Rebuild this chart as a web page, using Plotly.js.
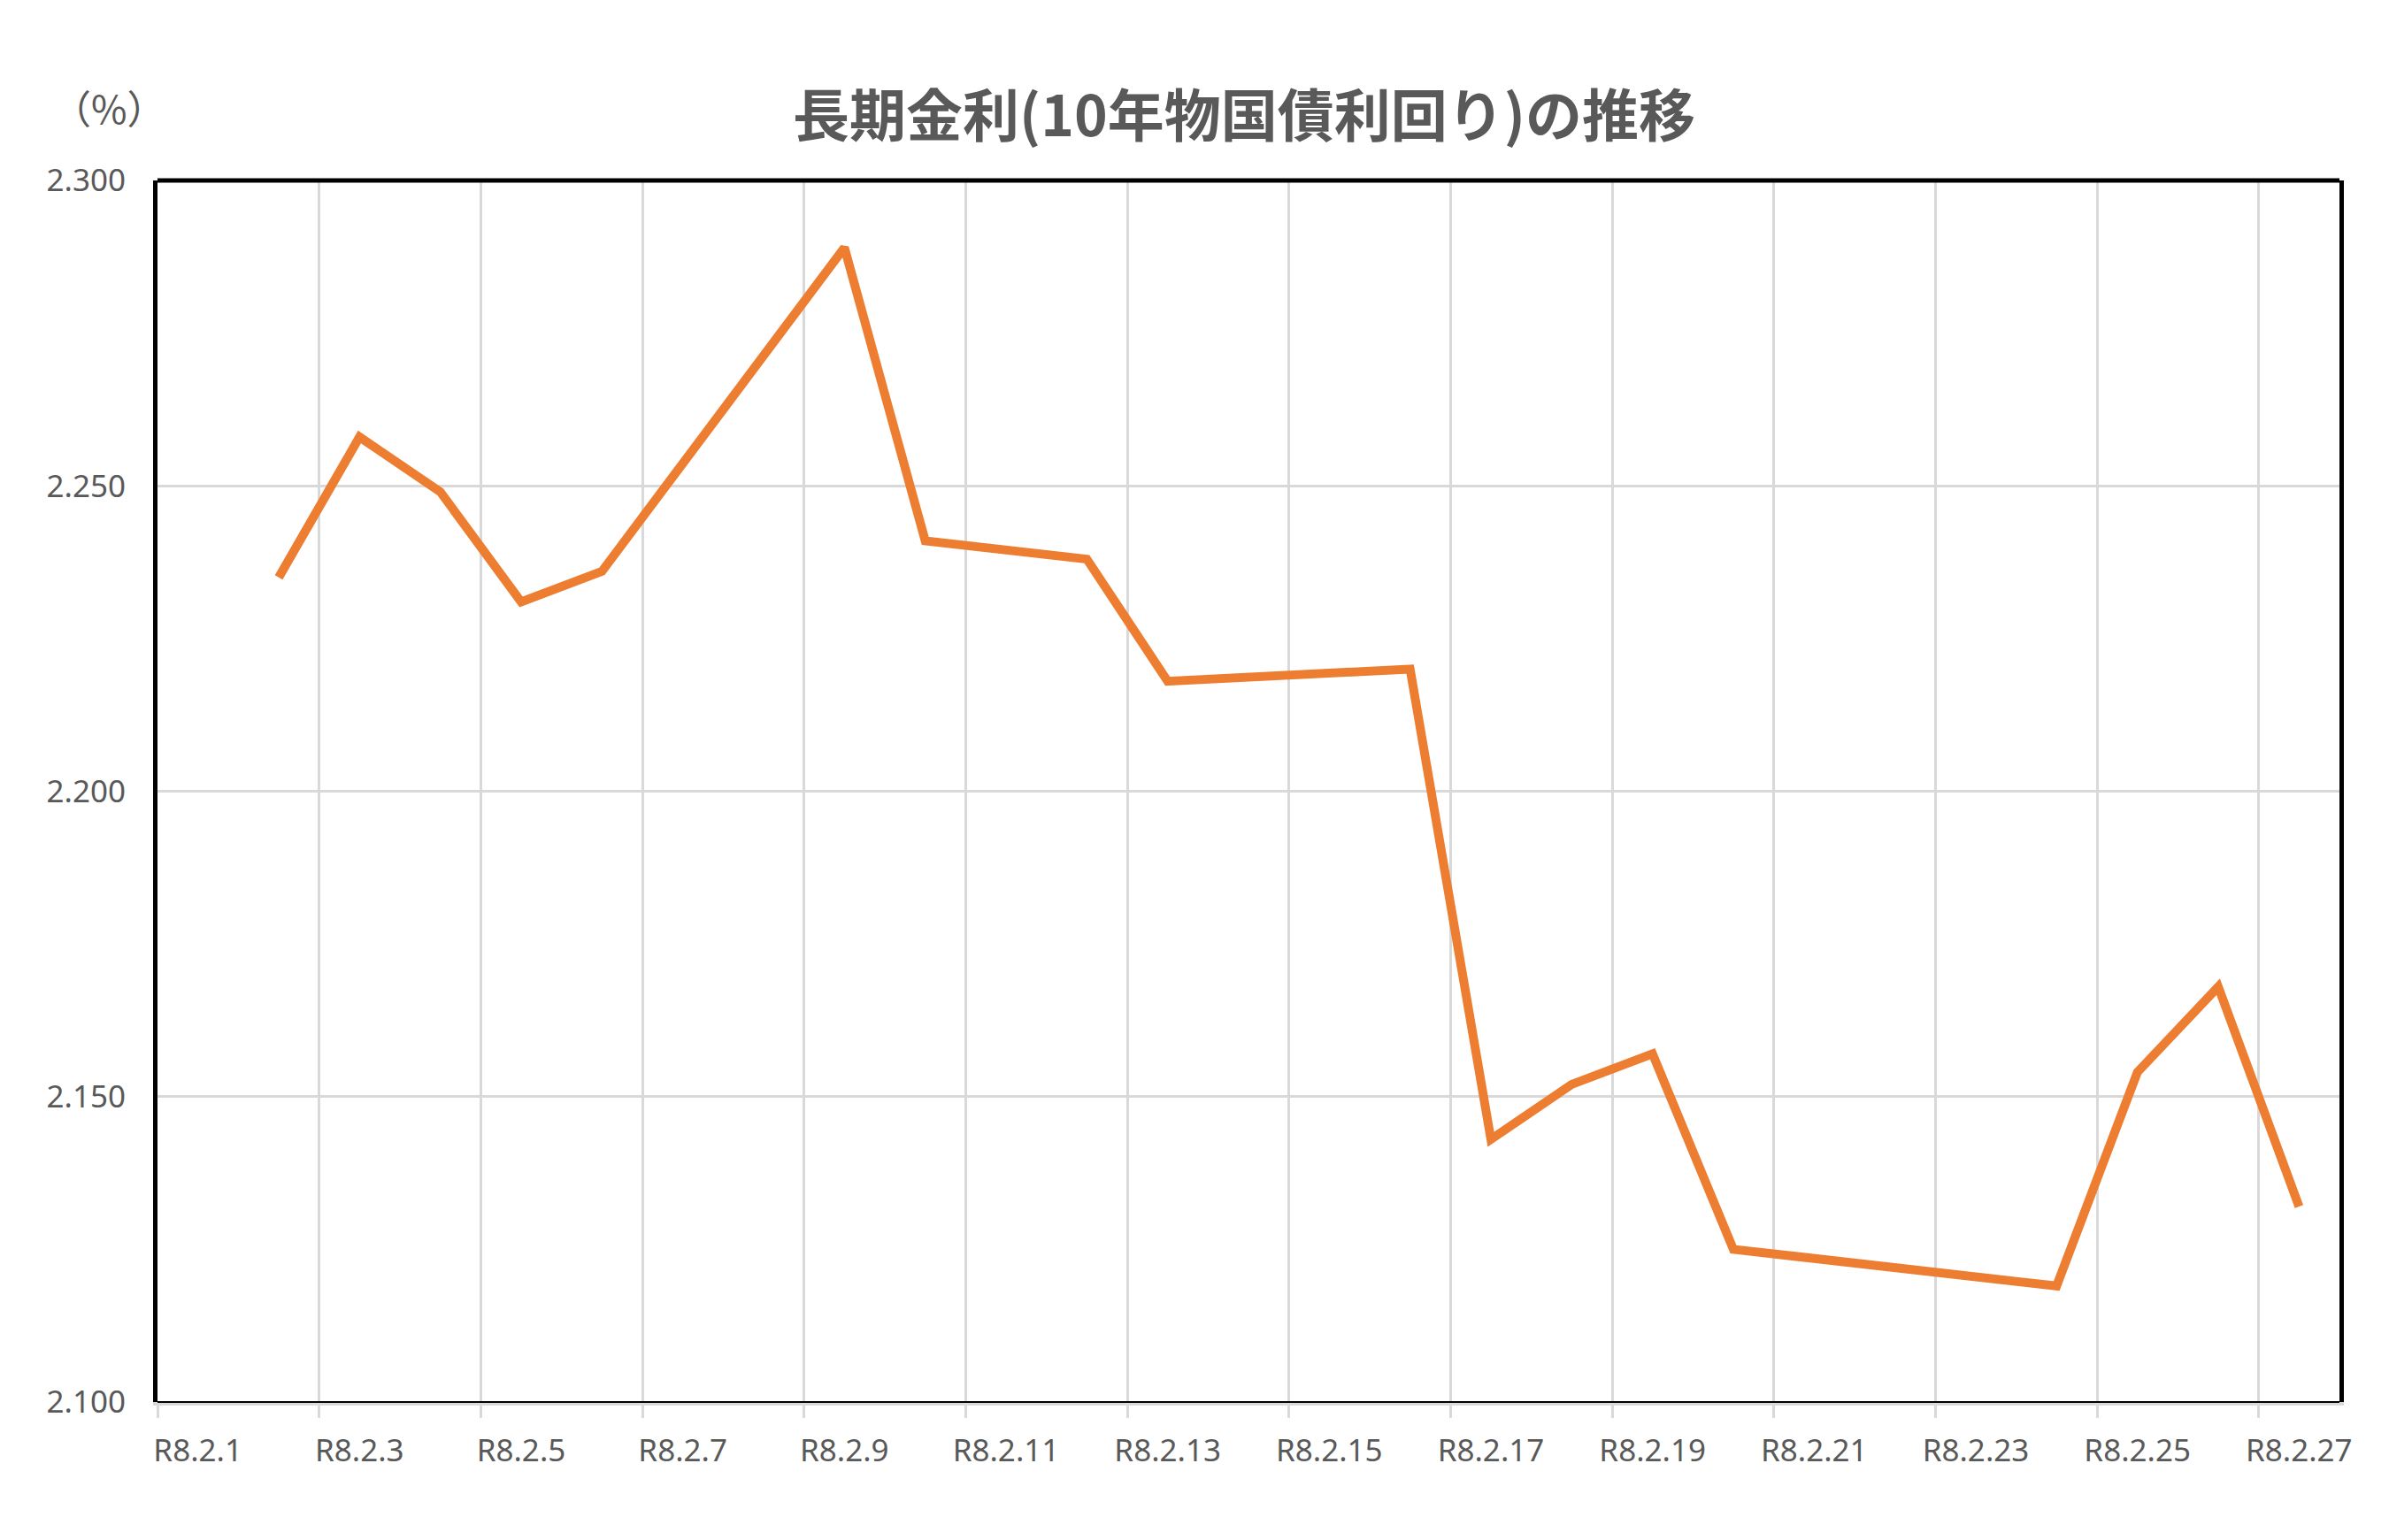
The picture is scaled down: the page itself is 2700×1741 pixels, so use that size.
<!DOCTYPE html>
<html>
<head>
<meta charset="utf-8">
<script src="https://cdn.plot.ly/plotly-3.0.1.min.js"></script>
<style>
  html, body { margin: 0; padding: 0; background: #fff; }
  #chart { width: 2700px; height: 1741px; }
</style>
</head>
<body>
<div id="chart"></div>
<script>
// 営業日（令和8年2月）
const dates = [
  '2026-02-02', '2026-02-03', '2026-02-04', '2026-02-05', '2026-02-06',
  '2026-02-09', '2026-02-10', '2026-02-12', '2026-02-13', '2026-02-16',
  '2026-02-17', '2026-02-18', '2026-02-19', '2026-02-20', '2026-02-24',
  '2026-02-25', '2026-02-26', '2026-02-27'
];

// 10年物国債利回り (%)
const yields = [
  2.235, 2.258, 2.249, 2.231, 2.236,
  2.289, 2.241, 2.238, 2.218, 2.220,
  2.143, 2.152, 2.157, 2.125, 2.119,
  2.154, 2.168, 2.132
];

// x軸の目盛り（2日おき）
const tickDates = [
  '2026-02-01', '2026-02-03', '2026-02-05', '2026-02-07', '2026-02-09',
  '2026-02-11', '2026-02-13', '2026-02-15', '2026-02-17', '2026-02-19',
  '2026-02-21', '2026-02-23', '2026-02-25', '2026-02-27'
];
const tickLabels = [
  'R8.2.1', 'R8.2.3', 'R8.2.5', 'R8.2.7', 'R8.2.9',
  'R8.2.11', 'R8.2.13', 'R8.2.15', 'R8.2.17', 'R8.2.19',
  'R8.2.21', 'R8.2.23', 'R8.2.25', 'R8.2.27'
];

const textColor = '#595959';
const gridColor = '#d9d9d9';
const tickFont = { family: 'Noto Sans, sans-serif', size: 35, color: textColor };

const data = [{
  x: dates,
  y: yields,
  type: 'scatter',
  mode: 'lines',
  // Excelの日付軸と同じく、点を日の中央に置く
  xperiod: 86400000,
  xperiodalignment: 'middle',
  line: { color: '#ED7D31', width: 10 },
  hoverinfo: 'x+y'
}];

// ラベルは日の中央、グリッド線は日の境目
const labelDates = tickDates.map(d => d + ' 12:00');

const layout = {
  width: 2700,
  height: 1741,
  paper_bgcolor: '#fff',
  plot_bgcolor: '#fff',
  margin: { l: 178, r: 56, t: 204, b: 156 },
  showlegend: false,
  title: {
    text: '長期金利(10年物国債利回り)の推移',
    font: { family: 'Noto Sans CJK JP, sans-serif', size: 64, color: textColor, weight: 'bold' },
    x: 0.498,
    xref: 'paper',
    xanchor: 'center',
    y: 1 - 132 / 1741,
    yref: 'container',
    yanchor: 'middle'
  },
  xaxis: {
    type: 'date',
    range: ['2026-02-01', '2026-02-28'],
    tickmode: 'array',
    tickvals: labelDates,
    ticktext: tickLabels,
    tickfont: tickFont,
    showgrid: false,
    ticks: '',
    ticklabelstandoff: 21,
    minor: {
      tickmode: 'array',
      tickvals: tickDates,
      showgrid: true,
      gridcolor: gridColor,
      gridwidth: 3,
      ticks: 'outside',
      ticklen: 14,
      tickwidth: 3,
      tickcolor: gridColor
    },
    showline: true,
    linecolor: gridColor,
    linewidth: 4,
    zeroline: false,
    fixedrange: true
  },
  yaxis: {
    range: [2.1, 2.3],
    dtick: 0.05,
    tick0: 2.1,
    tickformat: '.3f',
    tickfont: tickFont,
    showgrid: true,
    gridcolor: gridColor,
    gridwidth: 3,
    ticks: '',
    ticklabelstandoff: 24,
    showline: true,
    mirror: true,
    linecolor: '#000',
    linewidth: 5,
    zeroline: false,
    fixedrange: true
  },
  shapes: [
    // 枠の上辺と下辺
    { type: 'line', xref: 'paper', yref: 'paper', x0: 0, x1: 1, y0: 1, y1: 1,
      line: { color: '#000', width: 5 } },
    { type: 'line', xref: 'paper', yref: 'paper', x0: 0, x1: 1, y0: 0, y1: 0,
      line: { color: '#000', width: 2 } }
  ],
  annotations: [{
    text: '（%）',
    xref: 'paper',
    yref: 'paper',
    x: -0.022,
    y: 1 + 83 / 1381,
    xanchor: 'center',
    yanchor: 'middle',
    showarrow: false,
    font: { family: 'Noto Sans CJK JP, sans-serif', size: 44, color: textColor }
  }]
};

Plotly.newPlot('chart', data, layout, { displayModeBar: false, staticPlot: true });
</script>
</body>
</html>
